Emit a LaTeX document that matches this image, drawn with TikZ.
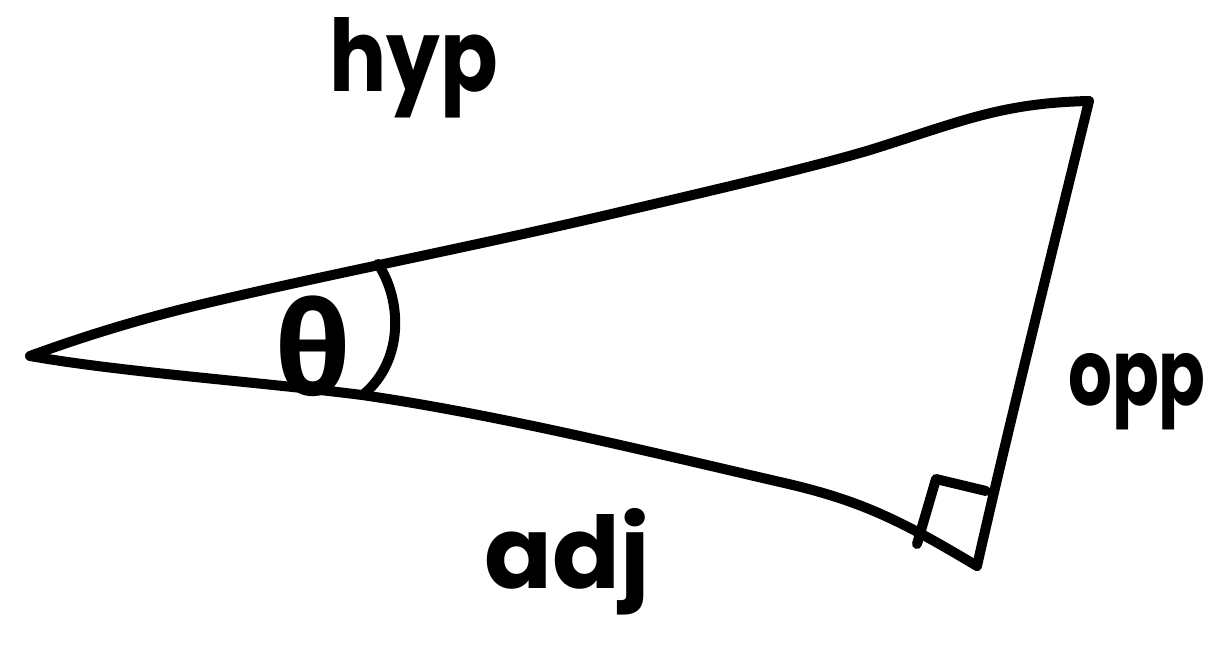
\documentclass[tikz,border=0pt]{standalone}
\usepackage{fontspec}
\setmainfont{Poppins}
\newfontfamily\greekfont{Fira Sans}
\begin{document}
\begin{tikzpicture}[x=1pt,y=-1pt,
  edge/.style={line width=10pt,line cap=round,line join=round},
  lbl/.style={inner sep=0pt,font=\fontsize{100}{100}\selectfont\bfseries},
  greek/.style={inner sep=0pt,font=\fontsize{130}{130}\selectfont\greekfont\bfseries}]
\useasboundingbox (0,0) rectangle (1219,647);
\coordinate (A) at (30,356);
\coordinate (B) at (1089,101);
\coordinate (C) at (977,566);
% hypotenuse
\draw[edge] (A) .. controls (90,334) and (150,316) .. (220,300)
  .. controls (340,272) and (480,245) .. (620,212)
  .. controls (740,184) and (820,165) .. (870,150)
  .. controls (960,122) and (1000,103) .. (B);
% opposite
\draw[edge] (B) .. controls (1060,220) and (1010,420) .. (C);
% adjacent
\draw[edge] (A) .. controls (120,372) and (260,382) .. (362,395)
  .. controls (500,415) and (650,452) .. (780,482)
  .. controls (860,500) and (900,520) .. (C);
% angle arc
\coordinate (a1) at (378,264);
\coordinate (a2) at (364,394);
\draw[edge] (a1) .. controls (402,300) and (404,360) .. (a2);
% right angle marker
\coordinate (r1) at (917,544);
\coordinate (r2) at (936,479);
\coordinate (r3) at (986,491);
\draw[edge] (r1) -- (r2) -- (r3);
% labels
\node[lbl,anchor=base,xscale=0.85] (hyp) at (414,92) {hyp};
\node[lbl,anchor=base west,xscale=0.75,font=\fontsize{92}{92}\selectfont\bfseries] (opp) at (1068,405) {opp};
\node[lbl,anchor=base] (adj) at (567,588) {adj};
\node[greek] (theta) at (313,346) {θ};
\end{tikzpicture}
\end{document}
